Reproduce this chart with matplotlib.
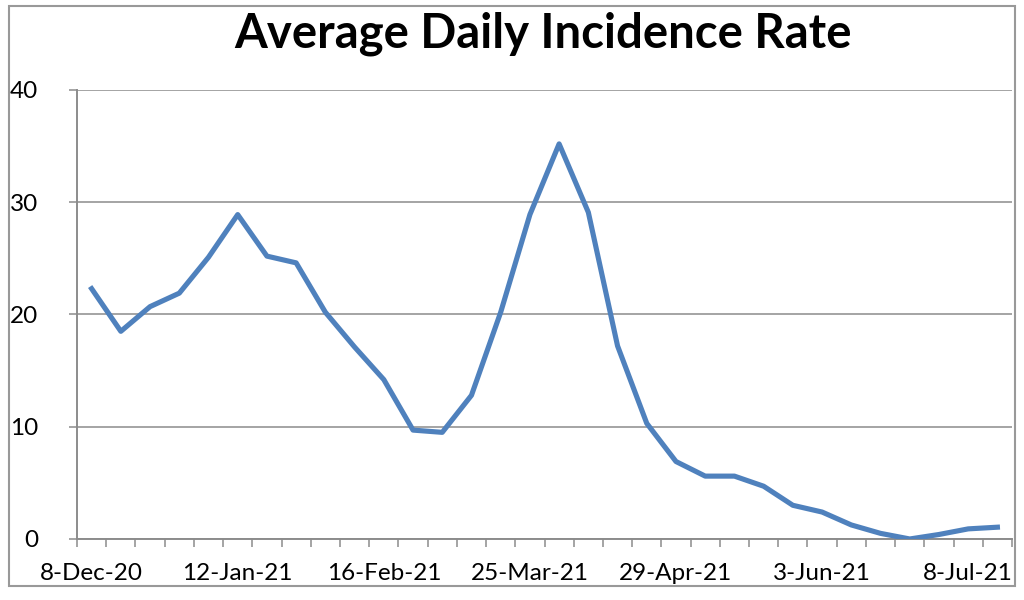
import matplotlib
matplotlib.use('Agg')
import matplotlib.pyplot as plt
from matplotlib.patches import Rectangle

plt.rcParams['font.family'] = ['Lato', 'DejaVu Sans']

# weekly average daily incidence rate
rate = [22.3, 18.5, 20.7, 21.9, 25.1, 28.9, 25.2, 24.6, 20.2, 17.1,
        14.2, 9.7, 9.5, 12.8, 20.2, 28.9, 35.2, 29.1, 17.2, 10.3,
        6.9, 5.6, 5.6, 4.7, 3.0, 2.4, 1.25, 0.5, 0.0, 0.4, 0.9, 1.05]
tick_labels = ['8-Dec-20', '12-Jan-21', '16-Feb-21', '25-Mar-21',
               '29-Apr-21', '3-Jun-21', '8-Jul-21']
label_every = 5

GRID = '#8c8c8c'

fig = plt.figure(figsize=(10.24, 6), dpi=100)
ax = fig.add_axes([0.0752, 0.1017, 0.9131, 0.7483])

x = list(range(len(rate)))
ax.plot(x, rate, color='#4f81bd', linewidth=3.7, solid_joinstyle='round', zorder=3)

ax.set_xlim(-0.5, len(rate) - 0.5)
ax.set_ylim(0, 40)
ax.set_yticks([0, 10, 20, 30, 40])
ax.yaxis.grid(True, color=GRID, linewidth=1.1)
ax.set_axisbelow(True)

# ticks between categories, labels under every 5th point
ax.set_xticks([i - 0.5 for i in range(len(rate) + 1)])
ax.set_xticklabels([])
ax.set_xticks(list(range(0, len(rate), label_every)), minor=True)
ax.set_xticklabels(tick_labels, minor=True)
ax.tick_params(axis='x', which='major', length=6, width=1.1, color=GRID, direction='out')
ax.tick_params(axis='x', which='minor', length=0, pad=17, labelsize=17.5)
ax.tick_params(axis='y', length=6, width=1.1, color=GRID, pad=22, labelsize=17.5)

for side in ['top', 'right']:
    ax.spines[side].set_visible(False)
for side in ['left', 'bottom']:
    ax.spines[side].set_color(GRID)
    ax.spines[side].set_linewidth(1.4)

fig.text(0.530, 0.944, 'Average Daily Incidence Rate', ha='center', va='center',
         fontsize=34, fontweight='bold')

fig.patches.append(Rectangle((0.0088, 0.0233), 0.982, 0.9667, transform=fig.transFigure,
                             fill=False, edgecolor='#999999', linewidth=1.5))

fig.savefig('out.png', dpi=100)
